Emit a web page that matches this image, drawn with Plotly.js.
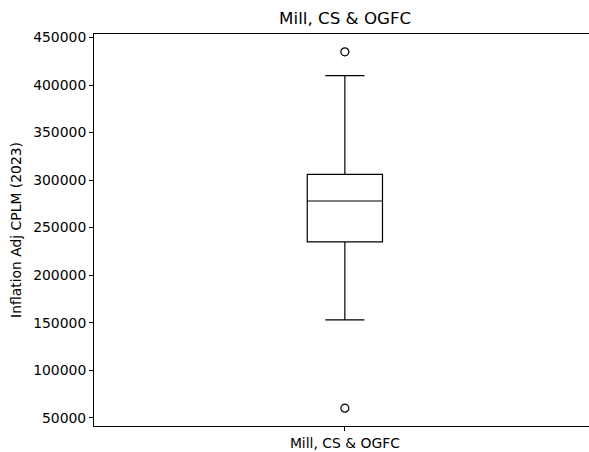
<!DOCTYPE html>
<html>
<head>
<meta charset="utf-8">
<script src="https://cdn.plot.ly/plotly-3.0.1.min.js"></script>
<style>html,body{margin:0;padding:0;background:#fff;}</style>
</head>
<body>
<div id="chart" style="width:589px;height:452px;"></div>
<script>
const categories = ['Mill, CS & OGFC'];
const q1Values = [235000];
const medianValues = [278000];
const q3Values = [306000];
const lowerWhisker = [153000];
const upperWhisker = [410000];
const outlierCats = ['Mill, CS & OGFC', 'Mill, CS & OGFC'];
const outlierValues = [435000, 60000];
const yTicks = [50000, 100000, 150000, 200000, 250000, 300000, 350000, 400000, 450000];

const font = 'DejaVu Sans, sans-serif';

const data = [
  {
    type: 'box',
    x: categories,
    q1: q1Values,
    median: medianValues,
    q3: q3Values,
    lowerfence: lowerWhisker,
    upperfence: upperWhisker,
    boxpoints: false,
    width: 0.15,
    whiskerwidth: 0.52,
    line: {color: '#000000', width: 1.2},
    fillcolor: 'rgba(255,255,255,0)',
    showlegend: false,
    hoverinfo: 'skip'
  },
  {
    type: 'scatter',
    mode: 'markers',
    x: outlierCats,
    y: outlierValues,
    marker: {symbol: 'circle-open', size: 8, color: '#000000', line: {width: 1.2, color: '#000000'}},
    showlegend: false,
    hoverinfo: 'skip'
  }
];

const layout = {
  width: 589,
  height: 452,
  margin: {l: 94, r: 0, t: 34, b: 26, pad: 0},
  paper_bgcolor: '#ffffff',
  plot_bgcolor: '#ffffff',
  font: {family: font, size: 13.9, color: '#000000'},
  title: {text: 'Mill, CS & OGFC', font: {family: font, size: 16.7, color: '#000000'}, x: 0.586, xanchor: 'center', y: 0.96, yanchor: 'middle'},
  xaxis: {
    type: 'category',
    range: [-0.5, 0.4866],
    showline: true, mirror: true, linecolor: '#000000', linewidth: 1,
    ticks: 'outside', ticklen: 4, tickcolor: '#000000', tickwidth: 1,
    showgrid: false, zeroline: false,
    tickfont: {family: font, size: 13.9, color: '#000000'}
  },
  yaxis: {
    range: [41250, 453750],
    tickvals: yTicks,
    ticktext: yTicks.map(v => String(v)),
    showline: true, mirror: false, linecolor: '#000000', linewidth: 1,
    ticks: 'outside', ticklen: 4, tickcolor: '#000000', tickwidth: 1,
    showgrid: false, zeroline: false,
    tickfont: {family: font, size: 13.9, color: '#000000'},
    title: {text: 'Inflation Adj CPLM (2023)', font: {family: font, size: 13.9, color: '#000000'}, standoff: 8}
  }
};

Plotly.newPlot('chart', data, layout, {staticPlot: true, displayModeBar: false});
</script>
</body>
</html>
